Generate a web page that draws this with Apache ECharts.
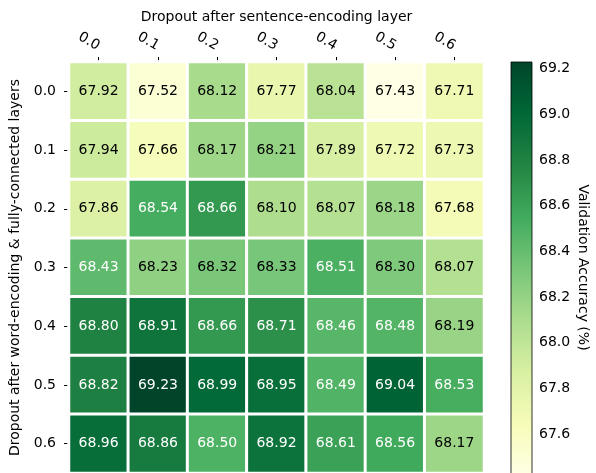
<!DOCTYPE html>
<html><head><meta charset="utf-8">
<script src="https://cdn.jsdelivr.net/npm/echarts@6/dist/echarts.min.js"></script>
<style>html,body{margin:0;padding:0;background:#fff}#c{width:596px;height:473px}</style>
</head><body><div id="c"></div>
<script>
const colLabels = ['0.0','0.1','0.2','0.3','0.4','0.5','0.6'];
const rowLabels = ['0.0','0.1','0.2','0.3','0.4','0.5','0.6'];
const row00 = [67.92, 67.52, 68.12, 67.77, 68.04, 67.43, 67.71];
const row01 = [67.94, 67.66, 68.17, 68.21, 67.89, 67.72, 67.73];
const row02 = [67.86, 68.54, 68.66, 68.10, 68.07, 68.18, 67.68];
const row03 = [68.43, 68.23, 68.32, 68.33, 68.51, 68.30, 68.07];
const row04 = [68.80, 68.91, 68.66, 68.71, 68.46, 68.48, 68.19];
const row05 = [68.82, 69.23, 68.99, 68.95, 68.49, 69.04, 68.53];
const row06 = [68.96, 68.86, 68.50, 68.92, 68.61, 68.56, 68.17];
const rows = [row00,row01,row02,row03,row04,row05,row06];
const cbTicks = [67.6, 67.8, 68.0, 68.2, 68.4, 68.6, 68.8, 69.0, 69.2];
const vMin = 67.43, vMax = 69.23;
const ylgn = ['#ffffe5','#f7fcb9','#d9f0a3','#addd8e','#78c679','#41ab5d','#238443','#006837','#004529'];
const mid = (vMin + vMax) / 2;
const data = [];
rows.forEach((r, i) => r.forEach((v, j) => {
  data.push({value: [j, i, v], label: {color: v > mid + 0.001 ? '#ffffff' : '#000000'}});
}));
const font = 'DejaVu Sans';
const chart = echarts.init(document.getElementById('c'));
const gTop = 62, gH = 414;
chart.setOption({
  animation: false,
  textStyle: {fontFamily: font},
  grid: [
    {left: 65, top: gTop, width: 419, height: gH},
    {left: 511, top: gTop, width: 21, height: gH}
  ],
  xAxis: [
    {type: 'category', data: colLabels, position: 'top', gridIndex: 0,
     axisLine: {show: false}, splitLine: {show: false},
     axisTick: {show: true, alignWithLabel: true, length: 5, lineStyle: {color: '#000'}},
     axisLabel: {rotate: 30, color: '#000', fontSize: 14, fontFamily: font, margin: 15,
       align: 'right', verticalAlign: 'middle'},
     name: 'Dropout after sentence-encoding layer', nameLocation: 'middle', nameGap: 38,
     nameMoveOverlap: false,
     nameTextStyle: {color: '#000', fontSize: 14, fontFamily: font}},
    {type: 'value', gridIndex: 1, show: false, min: 0, max: 1}
  ],
  yAxis: [
    {type: 'category', data: rowLabels, inverse: true, gridIndex: 0,
     axisLine: {show: false}, splitLine: {show: false},
     axisTick: {show: true, alignWithLabel: true, length: 5, lineStyle: {color: '#000'}},
     axisLabel: {color: '#000', fontSize: 14, fontFamily: font, margin: 13},
     name: 'Dropout after word-encoding & fully-connected layers', nameLocation: 'middle', nameGap: 47,
     nameRotate: 90,
     nameTextStyle: {color: '#000', fontSize: 14, fontFamily: font}},
    {type: 'value', gridIndex: 1, min: vMin, max: vMax, position: 'right',
     axisLine: {show: false}, splitLine: {show: false},
     axisTick: {show: true, length: 4, customValues: cbTicks, lineStyle: {color: '#000'}},
     axisLabel: {customValues: cbTicks, color: '#000', fontSize: 14, fontFamily: font, margin: 7,
       formatter: v => v.toFixed(1)},
     name: 'Validation Accuracy (%)', nameLocation: 'middle', nameGap: 44, nameRotate: -90,
     nameTextStyle: {color: '#000', fontSize: 14, fontFamily: font}}
  ],
  visualMap: {show: false, type: 'continuous', min: vMin, max: vMax, dimension: 2, seriesIndex: 0,
    inRange: {color: ylgn}},
  graphic: [{
    type: 'rect', z: 100,
    shape: {x: 511, y: gTop, width: 21, height: gH},
    style: {
      fill: new echarts.graphic.LinearGradient(0, 1, 0, 0,
        ylgn.map((c, k) => ({offset: k / (ylgn.length - 1), color: c}))),
      stroke: '#000', lineWidth: 0.8
    }
  }],
  series: [{
    type: 'heatmap', xAxisIndex: 0, yAxisIndex: 0, data: data,
    itemStyle: {borderColor: '#fff', borderWidth: 3},
    label: {show: true, fontSize: 14, fontFamily: font, formatter: p => p.value[2].toFixed(2)},
    emphasis: {disabled: true}
  }]
});
</script></body></html>
